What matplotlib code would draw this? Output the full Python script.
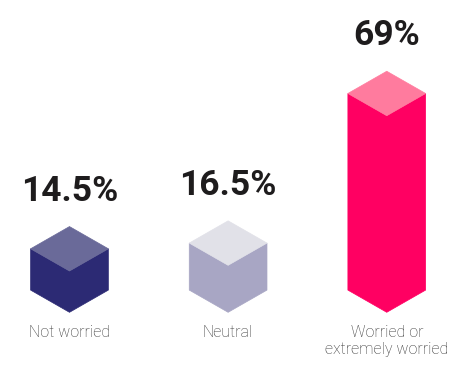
import matplotlib
matplotlib.use("Agg")
import matplotlib.pyplot as plt
from matplotlib.patches import Polygon

categories = ["Not worried", "Neutral", "Worried or\nextremely worried"]
values = [14.5, 16.5, 69]
labels = ["14.5%", "16.5%", "69%"]
front_colors = ["#2c2a74", "#a8a6c4", "#ff0062"]
top_colors = ["#6a6a99", "#e1e1e8", "#ff7b9e"]

W, H = 461, 380
fig = plt.figure(figsize=(W / 100, H / 100), dpi=100)
ax = fig.add_axes([0, 0, 1, 1])
ax.set_xlim(-0.438, 2.468)
ax.set_ylim(-23.75, 109.6)
ax.axis("off")

hw = 0.245   # half width of prism (x units)
d = 7.8      # isometric depth (y units)

for i, (v, fc, tc) in enumerate(zip(values, front_colors, top_colors)):
    c = i
    front = [(c - hw, d), (c, 0), (c + hw, d), (c + hw, v + d), (c, v), (c - hw, v + d)]
    ax.add_patch(Polygon(front, closed=True, facecolor=fc, edgecolor=fc, lw=0.5))
    top = [(c, v), (c - hw, v + d), (c, v + 2 * d), (c + hw, v + d)]
    ax.add_patch(Polygon(top, closed=True, facecolor=tc, edgecolor=tc, lw=0.5))
    ax.text(c, v + 2 * d + 9.1, labels[i], ha="center", va="baseline",
            fontsize=25.5, fontweight="bold", family=["Roboto", "DejaVu Sans"],
            color="#1e1c1d")
    ax.text(c, -4.6, categories[i], ha="center", va="top", fontsize=11.5,
            fontweight="light", family=["Roboto", "DejaVu Sans"], color="#333333",
            linespacing=1.1, multialignment="center")

fig.savefig("out.png", dpi=100)
